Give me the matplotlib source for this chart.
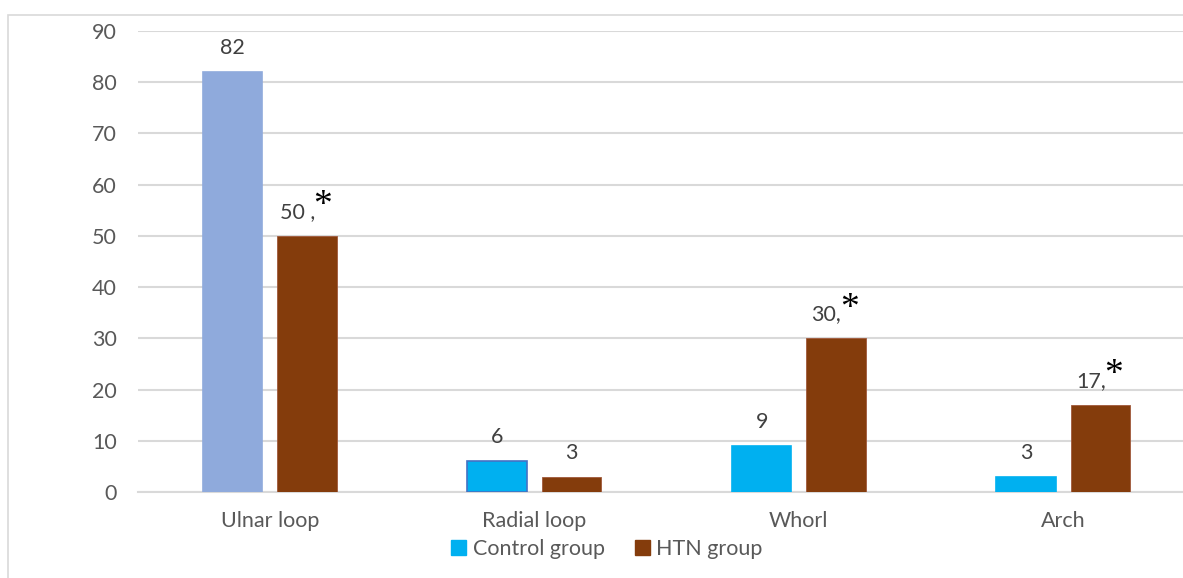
import numpy as np
import matplotlib.pyplot as plt
from matplotlib.patches import Patch, Rectangle

plt.rcParams['font.family'] = ['Lato', 'DejaVu Sans']

# pattern counts
categories = ['Ulnar loop', 'Radial loop', 'Whorl', 'Arch']
control = [82, 6, 9, 3]
htn = [50, 3, 30, 17]
control_labels = ['82', '6', '9', '3']
htn_labels = ['50 ,', '3', '30,', '17,']
htn_star = [True, False, True, True]

c_control = '#00B0F0'
c_htn = '#843C0C'
c_ulnar = '#8FAADC'
grey = '#595959'
fs = 15.5

W, H = 1183, 578
fig = plt.figure(figsize=(W / 100, H / 100), dpi=100)
ax = fig.add_axes([137.5 / W, 1 - 492 / H, (1195.5 - 137.5) / W, (492 - 31) / H])

# outer chart border
fig.patches.append(Rectangle((8 / W, -0.2), 2, 1.2 - 15 / H, transform=fig.transFigure,
                             fill=False, edgecolor='#D9D9D9', linewidth=1.2, clip_on=False))

x = np.arange(len(categories))
bw = 0.225
off = 0.14

ctrl_colors = [c_ulnar] + [c_control] * 3
ctrl_edges = [c_ulnar, '#4472C4', c_control, c_control]
b1 = ax.bar(x - off, control, bw, color=ctrl_colors, edgecolor=ctrl_edges, linewidth=1.2, zorder=3)
b2 = ax.bar(x + off, htn, bw, color=c_htn, edgecolor='#A0583A', linewidth=0.6, zorder=3)

ax.set_xlim(-0.5, 3.5)
ax.set_ylim(0, 90)
ax.set_yticks(range(0, 91, 10))
ax.set_xticks(x)
ax.set_xticklabels(categories)
ax.grid(axis='y', color='#D9D9D9', linewidth=1.5, zorder=0)
ax.tick_params(length=0, labelsize=fs, labelcolor=grey)
ax.tick_params(axis='y', pad=15)
ax.tick_params(axis='x', pad=14)
for s in ['top', 'right', 'left']:
    ax.spines[s].set_visible(False)
ax.spines['bottom'].set_color('#D9D9D9')
ax.spines['bottom'].set_linewidth(1.5)
ax.spines['bottom'].set_zorder(1)

fig.canvas.draw()
r = fig.canvas.get_renderer()

for bar, lab in zip(b1, control_labels):
    ax.annotate(lab, (bar.get_x() + bar.get_width() / 2, bar.get_height()),
                xytext=(0, 10), textcoords='offset points', ha='center', va='bottom',
                fontsize=fs, color='#404040')

for bar, lab, star in zip(b2, htn_labels, htn_star):
    cx = bar.get_x() + bar.get_width() / 2
    h = bar.get_height()
    if not star:
        ax.annotate(lab, (cx, h), xytext=(0, 10), textcoords='offset points',
                    ha='center', va='bottom', fontsize=fs, color='#404040')
        continue
    t1 = ax.annotate(lab, (cx, h), xytext=(0, 10), textcoords='offset points',
                     ha='left', va='bottom', fontsize=fs, color='#404040')
    t2 = ax.annotate('*', (cx, h), xytext=(0, 9), textcoords='offset points',
                     ha='left', va='bottom', fontsize=27, color='black',
                     family='Liberation Serif')
    w1 = t1.get_window_extent(r).width * 72 / fig.dpi
    w2 = t2.get_window_extent(r).width * 72 / fig.dpi
    start = -(w1 + w2) / 2
    t1.set_position((start, 10))
    t2.set_position((start + w1 - 1, 9))

handles = [Patch(color=c_control, label='Control group'), Patch(color=c_htn, label='HTN group')]
fig.legend(handles=handles, loc='center', bbox_to_anchor=(607 / W, 1 - 549 / H), ncol=2,
           frameon=False, fontsize=fs, handlelength=0.7, handleheight=0.7,
           handletextpad=0.3, columnspacing=1.4, labelcolor=grey)

fig.savefig('out.png', dpi=100)
